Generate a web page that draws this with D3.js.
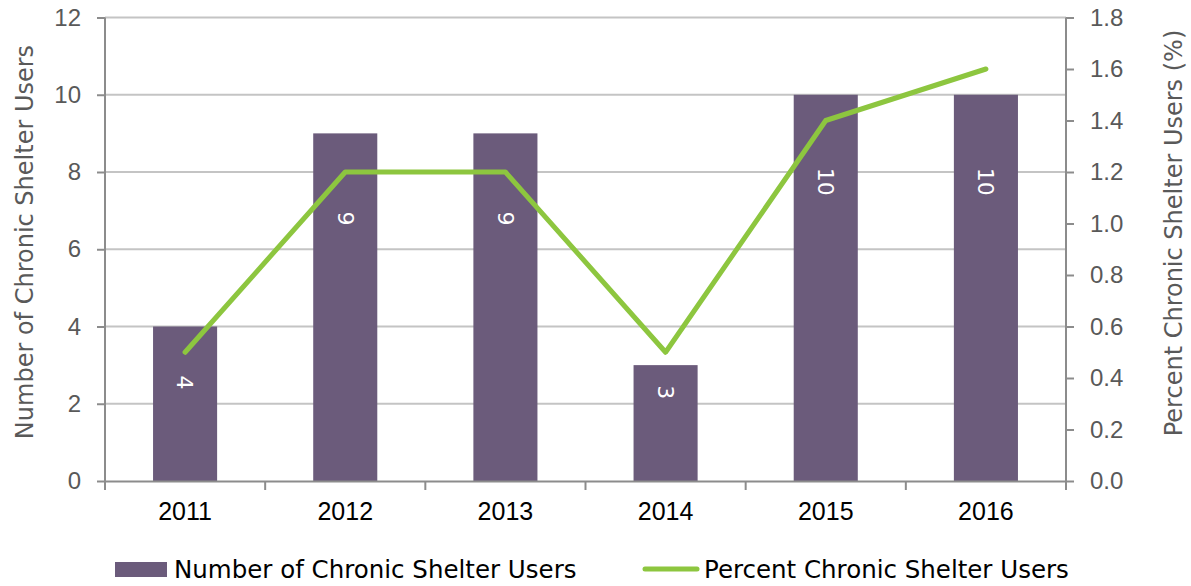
<!DOCTYPE html>
<html>
<head>
<meta charset="utf-8">
<script src="https://cdn.jsdelivr.net/npm/d3@7"></script>
<style>
  body { margin: 0; background: #fff; }
  svg { display: block; font-family: "DejaVu Sans", "Liberation Sans", sans-serif; }
</style>
</head>
<body>
<svg id="chart" width="1191" height="586"></svg>
<script>
// chart data
const years = ['2011', '2012', '2013', '2014', '2015', '2016'];
const shelterUsers = [4, 9, 9, 3, 10, 10];
const shelterPercent = [0.5, 1.2, 1.2, 0.5, 1.4, 1.6];
const leftTicks = [0, 2, 4, 6, 8, 10, 12];
const rightTicks = [0, 0.2, 0.4, 0.6, 0.8, 1.0, 1.2, 1.4, 1.6, 1.8];

const margin = {top: 17.5, right: 125, bottom: 105, left: 105},
    width = 1191 - margin.left - margin.right,
    height = 586 - margin.top - margin.bottom;

const purple = '#6b5b7b', green = '#8dc63f', axisGrey = '#8c8c8c', gridGrey = '#c4c4c4';

const x = d3.scaleBand().domain(years).range([0, width]).paddingInner(0.6).paddingOuter(0.3);
const xCat = d3.scaleBand().domain(years).range([0, width]);
const yLeft = d3.scaleLinear().domain([0, 12]).range([height, 0]);
const yRight = d3.scaleLinear().domain([0, 1.8]).range([height, 0]);

const svg = d3.select('#chart');
const g = svg.append('g').attr('transform', 'translate(' + margin.left + ',' + margin.top + ')');

// gridlines
g.append('g').selectAll('line')
    .data(leftTicks.filter(t => t > 0))
    .join('line')
    .attr('x1', 0).attr('x2', width)
    .attr('y1', d => yLeft(d)).attr('y2', d => yLeft(d))
    .attr('stroke', gridGrey).attr('stroke-width', 2);

// bars
g.append('g').selectAll('rect')
    .data(years)
    .join('rect')
    .attr('x', d => x(d))
    .attr('width', x.bandwidth())
    .attr('y', (d, i) => yLeft(shelterUsers[i]))
    .attr('height', (d, i) => height - yLeft(shelterUsers[i]))
    .attr('fill', purple);

// bar labels (rotated, nudged like the original)
const labelDepth = [56, 85, 85, 27, 87, 87];
g.append('g').selectAll('text')
    .data(years)
    .join('text')
    .attr('transform', (d, i) => 'translate(' + (x(d) + x.bandwidth() / 2) + ',' +
        (yLeft(shelterUsers[i]) + labelDepth[i]) + ') rotate(90)')
    .attr('text-anchor', 'middle')
    .attr('dy', '0.35em')
    .attr('fill', '#fff')
    .style('font-size', '22px')
    .text((d, i) => shelterUsers[i]);

// axes
const leftAxis = d3.axisLeft(yLeft).tickValues(leftTicks).tickSize(8).tickPadding(16);
const gl = g.append('g').call(leftAxis);
const rightAxis = d3.axisRight(yRight).tickValues(rightTicks).tickSize(8).tickPadding(16)
    .tickFormat(d3.format('.1f'));
const gr = g.append('g').attr('transform', 'translate(' + width + ',0)').call(rightAxis);
const bottomAxis = d3.axisBottom(xCat).tickSize(0).tickPadding(21);
const gb = g.append('g').attr('transform', 'translate(0,' + height + ')').call(bottomAxis);

// category boundary ticks
gb.append('g').selectAll('line')
    .data(years.concat(['end']))
    .join('line')
    .attr('x1', (d, i) => i * xCat.step()).attr('x2', (d, i) => i * xCat.step())
    .attr('y1', 0).attr('y2', 9)
    .attr('stroke', axisGrey).attr('stroke-width', 2);

[gl, gr, gb].forEach(a => {
    a.select('.domain').attr('stroke', axisGrey).attr('stroke-width', 2);
    a.selectAll('.tick line').attr('stroke', axisGrey).attr('stroke-width', 2);
    a.selectAll('.tick text').attr('fill', '#595959').style('font-size', '24px');
});
gl.select('.domain').attr('d', 'M0,0V' + height);
gr.select('.domain').attr('d', 'M0,0V' + height);
gb.selectAll('.tick text').attr('fill', '#000').style('font-size', '25px');

// percent line
const line = d3.line()
    .x((d, i) => x(years[i]) + x.bandwidth() / 2)
    .y(d => yRight(d));
g.append('path')
    .datum(shelterPercent)
    .attr('d', line)
    .attr('fill', 'none')
    .attr('stroke', green)
    .attr('stroke-width', 5)
    .attr('stroke-linejoin', 'round')
    .attr('stroke-linecap', 'round');

// axis titles
svg.append('text')
    .attr('transform', 'translate(25,242) rotate(-90)')
    .attr('text-anchor', 'middle').attr('dy', '0.35em')
    .attr('fill', '#595959').style('font-size', '24px')
    .text('Number of Chronic Shelter Users');
svg.append('text')
    .attr('transform', 'translate(1174,233) rotate(-90)')
    .attr('text-anchor', 'middle').attr('dy', '0.35em')
    .attr('fill', '#595959').style('font-size', '24px')
    .text('Percent Chronic Shelter Users (%)');

// legend
const legend = svg.append('g').attr('transform', 'translate(0,569)');
legend.append('rect').attr('x', 115).attr('y', -7).attr('width', 52).attr('height', 15).attr('fill', purple);
legend.append('text').attr('x', 174).attr('dy', '0.35em').style('font-size', '24.5px').attr('fill', '#000')
    .text('Number of Chronic Shelter Users');
legend.append('line').attr('x1', 645).attr('x2', 697).attr('y1', 0).attr('y2', 0)
    .attr('stroke', green).attr('stroke-width', 5).attr('stroke-linecap', 'round');
legend.append('text').attr('x', 704).attr('dy', '0.35em').style('font-size', '24.5px').attr('fill', '#000')
    .text('Percent Chronic Shelter Users');
</script>
</body>
</html>
